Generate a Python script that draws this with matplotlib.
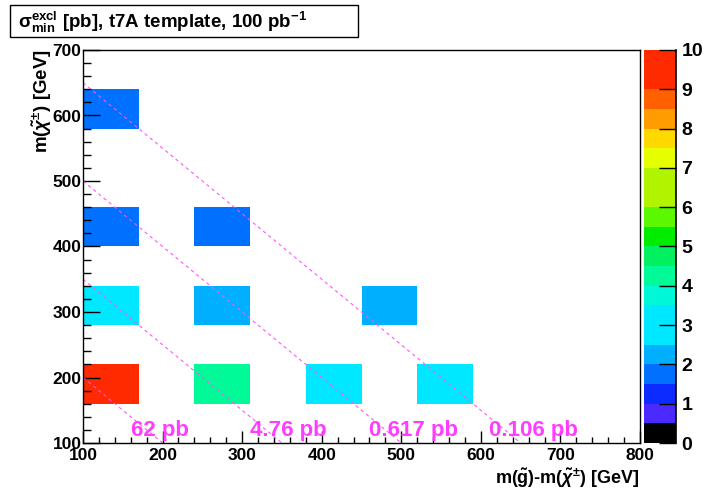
import numpy as np
import matplotlib
matplotlib.use("Agg")
import matplotlib.pyplot as plt
from matplotlib.colors import ListedColormap, BoundaryNorm
from matplotlib.patches import Rectangle
from matplotlib.ticker import MultipleLocator

plt.rcParams["font.family"] = ["Liberation Sans", "DejaVu Sans"]
plt.rcParams["font.weight"] = "bold"
plt.rcParams["mathtext.fontset"] = "custom"
plt.rcParams["mathtext.rm"] = "Liberation Sans:bold"
plt.rcParams["mathtext.bf"] = "Liberation Sans:bold"
plt.rcParams["mathtext.it"] = "Liberation Sans:italic:bold"
plt.rcParams["mathtext.sf"] = "Liberation Sans:bold"

# Binning of the 2D histogram
x_edges = np.arange(100, 801, 70)   # m(gluino) - m(chargino) [GeV]
y_edges = np.arange(100, 701, 60)   # m(chargino) [GeV]

# Signal points: mass splitting, chargino mass, minimal excluded cross-section [pb]
delta_m = [100, 250, 400, 550, 100, 250, 450, 100, 250, 100]
m_chi = [200, 200, 200, 200, 300, 300, 300, 400, 400, 600]
sigma_min = [9.5, 4.2, 3.0, 3.0, 3.0, 2.3, 2.3, 1.8, 1.8, 1.8]

# Gluino-mass reference lines and their production cross-sections
m_gluino = [300, 450, 600, 750]
xsec_gluino = [62, 4.76, 0.617, 0.106]

z_levels = np.arange(0, 10.01, 0.5)
palette = ["#000000", "#4a2aff", "#0c2cff", "#0070ff", "#00b0ff",
           "#00e8ff", "#00e8ff", "#00f8d8", "#00fa98", "#00f060",
           "#00ec00", "#5cf800", "#b0f400", "#b0f400", "#e6ff00",
           "#ffd800", "#ff9c00", "#ff6000", "#ff2a00", "#ff2a00"]
cmap = ListedColormap(palette)
norm = BoundaryNorm(z_levels, cmap.N)

H, _, _ = np.histogram2d(delta_m, m_chi, bins=[x_edges, y_edges], weights=sigma_min)
H = np.ma.masked_equal(H, 0.0)

W, Hpx = 713, 490
fig = plt.figure(figsize=(W / 100, Hpx / 100), dpi=100)
ax = fig.add_axes([83 / W, 47 / Hpx, 557 / W, 393 / Hpx])
cax = fig.add_axes([644 / W, 47 / Hpx, 32 / W, 393 / Hpx])

ax.pcolormesh(x_edges, y_edges, H.T, cmap=cmap, norm=norm,
              edgecolors="none", antialiased=True)

for mg, xs in zip(m_gluino, xsec_gluino):
    dm = np.array([x_edges[0], mg - y_edges[0]])
    ax.plot(dm, mg - dm, color="#ff55ff", lw=0.8, dashes=(3, 3))
    ax.text(mg - 140, 110, f"{xs:g} pb", color="#ff3cff", fontsize=16,
            fontweight="bold", ha="left", va="baseline")

ax.set_xlim(100, 800)
ax.set_ylim(100, 700)
ax.xaxis.set_major_locator(MultipleLocator(100))
ax.xaxis.set_minor_locator(MultipleLocator(20))
ax.yaxis.set_major_locator(MultipleLocator(100))
ax.yaxis.set_minor_locator(MultipleLocator(20))
ax.tick_params(axis="x", which="major", direction="in", length=9, width=1,
               labelsize=12.5, pad=3.5)
ax.tick_params(axis="x", which="minor", direction="in", length=4.5, width=1)
ax.tick_params(axis="y", which="major", direction="in", length=12, width=1,
               labelsize=12.5, pad=1)
ax.tick_params(axis="y", which="minor", direction="in", length=6, width=1)
for lab in ax.get_xticklabels() + ax.get_yticklabels():
    lab.set_fontweight("bold")
for sp in ax.spines.values():
    sp.set_linewidth(1)

fig.text(640 / W, 1 - 478 / Hpx,
         r"m($\tilde{\mathrm{g}}$)-m($\tilde{\chi}^{\pm}$) [GeV]",
         ha="right", va="center", fontsize=13, fontweight="bold")
fig.text(42 / W, 1 - 49 / Hpx, r"m($\tilde{\chi}^{\pm}$) [GeV]",
         rotation=90, ha="center", va="top", fontsize=13.5, fontweight="bold")

cb = fig.colorbar(plt.cm.ScalarMappable(norm=norm, cmap=cmap), cax=cax,
                  ticks=np.arange(0, 11, 1))
cb.outline.set_visible(False)
cax.axvline(1, color="black", lw=1.2, clip_on=False)
cax.tick_params(direction="in", length=12, width=1, labelsize=14, pad=4)
cax.set_yticklabels([str(v) for v in range(11)], fontweight="bold")
cax.minorticks_off()

fig.patches.append(Rectangle((10 / W, 1 - 37 / Hpx), 348 / W, 32 / Hpx,
                             transform=fig.transFigure, facecolor="white",
                             edgecolor="black", lw=1))
fig.text(18 / W, 1 - 22 / Hpx,
         r"$\mathrm{\sigma}^{\mathrm{excl}}_{\mathrm{min}}$ [pb], t7A template, 100 pb$^{\mathrm{-1}}$",
         ha="left", va="center", fontsize=13.5, fontweight="bold")

fig.savefig("out.png", dpi=100)
